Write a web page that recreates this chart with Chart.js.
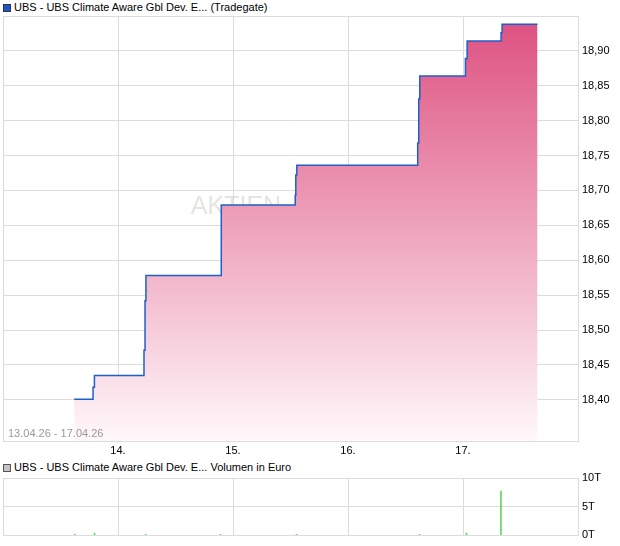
<!DOCTYPE html>
<html>
<head>
<meta charset="utf-8">
<script src="https://cdn.jsdelivr.net/npm/chart.js@4.4.1/dist/chart.umd.min.js"></script>
<style>
  body { margin: 0; background: #fff; width: 620px; height: 546px; position: relative; overflow: hidden;
         font-family: 'Liberation Sans', Arial, sans-serif; }
  .head { position: absolute; left: 3px; font-size: 11px; line-height: 13px; color: #000; white-space: nowrap; }
  .head i { display: inline-block; width: 6px; height: 6px; border: 1px solid #333; margin-right: 3px; vertical-align: -1px; }
  .range { position: absolute; left: 8px; top: 427px; font-size: 11px; color: #999; white-space: nowrap; }
  canvas { position: absolute; left: 0; }
</style>
</head>
<body>
<div class="head" style="top:1px"><i style="background:#2255cc"></i>UBS - UBS Climate Aware Gbl Dev. E... (Tradegate)</div>
<canvas id="kurs" width="620" height="460" style="top:0"></canvas>
<div class="range">13.04.26 - 17.04.26</div>
<div class="head" style="top:461px"><i style="background:#c4c4c4;border-color:#555"></i>UBS - UBS Climate Aware Gbl Dev. E... Volumen in Euro</div>
<canvas id="volumen" width="620" height="86" style="top:460px"></canvas>
<script>
// Kurs (Tag als Dezimalzahl im April)
const priceX = [13.619, 13.783, 13.795, 14.226, 14.235, 14.243, 14.898, 15.541, 15.546, 15.555,
                16.606, 16.615, 16.624, 17.021, 17.036, 17.331, 17.340, 17.648];
const priceY = [18.401, 18.418, 18.435, 18.471, 18.542, 18.578, 18.679, 18.693, 18.722, 18.736,
                18.768, 18.831, 18.864, 18.889, 18.914, 18.926, 18.938, 18.938];

// Volumen in Tausend Euro
const volX = [13.624, 13.796, 14.24, 14.892, 15.553, 16.622, 17.03, 17.33];
const volY = [0.15, 0.4, 0.2, 0.15, 0.15, 0.15, 0.4, 7.7];

const xTicks = [14, 15, 16, 17];
const yTicks = [18.40, 18.45, 18.50, 18.55, 18.60, 18.65, 18.70, 18.75, 18.80, 18.85, 18.90];

const font = { family: "'Liberation Sans', Arial, sans-serif", size: 11 };
const gridColor = '#dcdcdc';

// Rahmen um die Zeichenfläche + Wasserzeichen
const rahmen = {
  id: 'rahmen',
  beforeDatasetsDraw(chart, args, opts) {
    if (!opts.watermark) return;
    const ctx = chart.ctx;
    ctx.save();
    ctx.font = "25px 'Liberation Sans', Arial, sans-serif";
    ctx.fillStyle = 'rgba(185, 175, 165, 0.35)';
    ctx.textAlign = 'center';
    ctx.fillText('AKTIEN', 236, 214);
    ctx.restore();
  },
  afterDraw(chart) {
    const a = chart.chartArea;
    const ctx = chart.ctx;
    ctx.save();
    ctx.strokeStyle = gridColor;
    ctx.lineWidth = 1;
    ctx.strokeRect(Math.round(a.left) + 0.5, Math.round(a.top) + 0.5,
                   Math.round(a.right - a.left), Math.round(a.bottom - a.top));
    ctx.restore();
  }
};

function xScale(showLabels) {
  return {
    type: 'linear', min: 13, max: 18, offset: false,
    afterBuildTicks: s => { s.ticks = xTicks.map(v => ({ value: v })); },
    afterFit: s => { s.height = showLabels ? 19 : 10; },
    grid: { color: gridColor, drawTicks: false, offset: false },
    border: { display: false },
    ticks: { display: showLabels, font: font, color: '#000', padding: 3, maxRotation: 0,
             callback: v => v + '.' }
  };
}

const fillGradient = ctx => {
  const a = ctx.chart.chartArea;
  if (!a) return 'rgba(230,100,140,0.5)';
  const g = ctx.chart.ctx.createLinearGradient(0, a.top, 0, a.bottom);
  g.addColorStop(0, '#dd4f80');
  g.addColorStop(1, '#fff8fa');
  return g;
};

new Chart(document.getElementById('kurs'), {
  type: 'line',
  data: {
    datasets: [{
      data: priceX.map((x, i) => ({ x: x, y: priceY[i] })),
      stepped: true,
      borderColor: '#1f5fcc',
      borderWidth: 1.5,
      pointRadius: 0,
      fill: 'start',
      backgroundColor: fillGradient
    }]
  },
  options: {
    responsive: false, animation: false, devicePixelRatio: 1,
    layout: { padding: { top: 16, left: 3, right: 0, bottom: 0 } },
    plugins: { legend: { display: false }, tooltip: { enabled: false }, rahmen: { watermark: true } },
    scales: {
      x: xScale(true),
      y: {
        position: 'right', min: 18.341, max: 18.95,
        afterBuildTicks: s => { s.ticks = yTicks.map(v => ({ value: v })); },
        afterFit: s => { s.width = 42; },
        grid: { color: gridColor, drawTicks: false },
        border: { display: false },
        ticks: { font: font, color: '#000', padding: 4,
                 callback: v => v.toFixed(2).replace('.', ',') }
      }
    }
  },
  plugins: [rahmen]
});

new Chart(document.getElementById('volumen'), {
  type: 'bar',
  data: {
    datasets: [{
      data: volX.map((x, i) => ({ x: x, y: volY[i] })),
      backgroundColor: '#5fd65f',
      barThickness: 1,
      minBarLength: 1
    }]
  },
  options: {
    responsive: false, animation: false, devicePixelRatio: 1,
    layout: { padding: { top: 18, left: 3, right: 0, bottom: 0 } },
    plugins: { legend: { display: false }, tooltip: { enabled: false }, rahmen: { watermark: false } },
    scales: {
      x: xScale(false),
      y: {
        position: 'right', min: 0, max: 10,
        ticks: { stepSize: 5, font: font, color: '#000', padding: 4, callback: v => v + 'T' },
        afterFit: s => { s.width = 42; },
        grid: { color: gridColor, drawTicks: false },
        border: { display: false }
      }
    }
  },
  plugins: [rahmen]
});
</script>
</body>
</html>
